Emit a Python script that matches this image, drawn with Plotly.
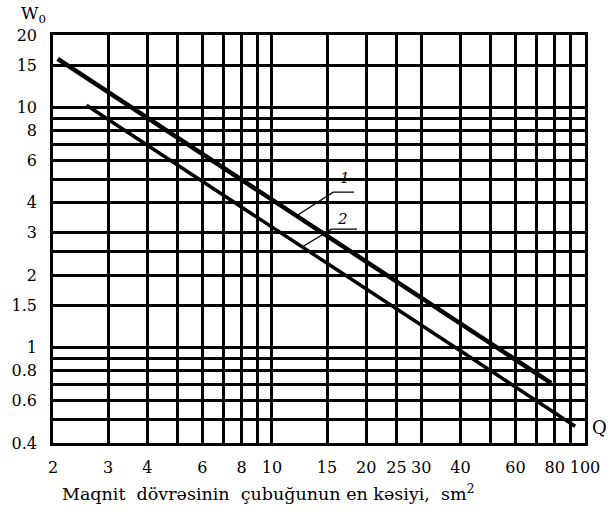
import plotly.graph_objects as go

# Cross-section Q (sm^2) vs. W0, two straight lines on log-log paper
q_line1 = [2.07, 78.0]
w_line1 = [15.9, 0.71]
q_line2 = [2.56, 93.0]
w_line2 = [10.2, 0.47]

# Leader lines for the curve numbers (leader + underline)
q_lead1 = [12.1, 15.7, 18.3]
w_lead1 = [3.56, 4.43, 4.43]
q_lead2 = [12.6, 15.5, 18.7]
w_lead2 = [2.64, 3.11, 3.11]

# Labelled grid positions
x_ticks = [2, 3, 4, 6, 8, 10, 15, 20, 25, 30, 40, 60, 80, 100]
y_ticks = [0.4, 0.6, 0.8, 1, 1.5, 2, 3, 4, 6, 8, 10, 15, 20]
# Unlabelled grid positions
x_minor = [5, 7, 9, 50, 70, 90]
y_minor = [0.5, 0.7, 0.9, 2.5, 5, 7, 9]

FONT = "DejaVu Serif"

fig = go.Figure()
fig.add_trace(go.Scatter(x=q_line1, y=w_line1, mode="lines",
                         line=dict(color="black", width=4.5), hoverinfo="skip"))
fig.add_trace(go.Scatter(x=q_line2, y=w_line2, mode="lines",
                         line=dict(color="black", width=3.5), hoverinfo="skip"))
fig.add_trace(go.Scatter(x=q_lead1, y=w_lead1, mode="lines",
                         line=dict(color="black", width=1.3), hoverinfo="skip"))
fig.add_trace(go.Scatter(x=q_lead2, y=w_lead2, mode="lines",
                         line=dict(color="black", width=1.3), hoverinfo="skip"))

fig.add_annotation(x=1.234, y=0.705, xref="x", yref="y", text="<i>1</i>",
                   showarrow=False, font=dict(family=FONT, size=15, color="black"))
fig.add_annotation(x=1.227, y=0.534, xref="x", yref="y", text="<i>2</i>",
                   showarrow=False, font=dict(family=FONT, size=15, color="black"))

fig.add_annotation(x=-0.037, y=1.05, xref="paper", yref="paper", text="W<sub>0</sub>",
                   showarrow=False, xanchor="center", yanchor="middle",
                   font=dict(family=FONT, size=17, color="black"))
fig.add_annotation(x=1.028, y=0.039, xref="paper", yref="paper", text="Q",
                   showarrow=False, xanchor="center", yanchor="middle",
                   font=dict(family=FONT, size=18, color="black"))
fig.add_annotation(x=0.405, y=-0.123, xref="paper", yref="paper",
                   text="Maqnit\u00a0 dövrəsinin\u00a0 çubuğunun en kəsiyi,\u00a0 sm<sup>2</sup>",
                   showarrow=False, xanchor="center", yanchor="middle",
                   font=dict(family=FONT, size=17.5, color="black"))

axis_common = dict(
    showgrid=True, gridcolor="black", gridwidth=2.5,
    showline=True, linecolor="black", linewidth=2.5, mirror=True,
    ticks="", zeroline=False, tickmode="array", tickangle=0,
    tickfont=dict(family=FONT, size=16, color="black"),
)

fig.update_xaxes(type="log", range=[0.30103, 2.0], tickvals=x_ticks,
                 ticktext=[str(v) for v in x_ticks], ticklabelstandoff=8,
                 minor=dict(tickmode="array", tickvals=x_minor, showgrid=True,
                            gridcolor="black", gridwidth=2.5, ticks=""),
                 **axis_common)
fig.update_yaxes(type="log", range=[-0.39794, 1.30103], tickvals=y_ticks,
                 ticktext=[str(v) for v in y_ticks], ticklabelstandoff=10,
                 minor=dict(tickmode="array", tickvals=y_minor, showgrid=True,
                            gridcolor="black", gridwidth=2.5, ticks=""),
                 **axis_common)

fig.update_layout(
    width=612, height=510,
    margin=dict(l=48, r=23, t=35, b=67),
    paper_bgcolor="white", plot_bgcolor="white",
    showlegend=False,
)

fig.write_html("out.html")
